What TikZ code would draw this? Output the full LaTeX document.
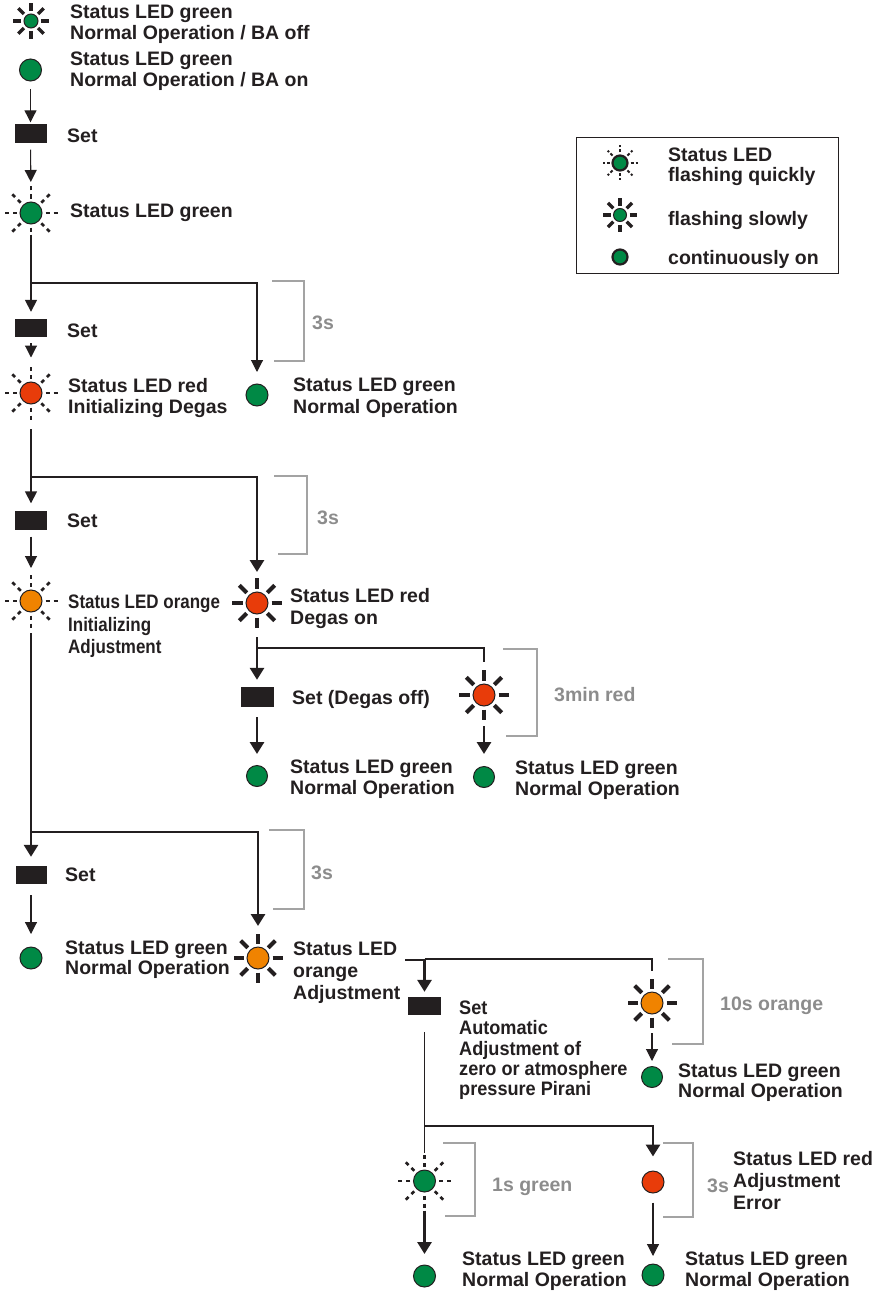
\documentclass[tikz,border=0pt]{standalone}
\usepackage{fontspec}
\setmainfont{Liberation Sans}
\newfontfamily\condfont{Liberation Sans}[FakeStretch=0.87]
\newfontfamily\semicondfont{Liberation Sans}[FakeStretch=0.93]
\usetikzlibrary{arrows.meta}
\definecolor{ink}{HTML}{231F20}
\definecolor{ledgreen}{RGB}{0,137,69}
\definecolor{ledred}{RGB}{232,60,10}
\definecolor{ledorange}{RGB}{240,131,0}
\definecolor{brk}{HTML}{A3A3A3}
\definecolor{brktext}{HTML}{8C8C8C}
\newcommand{\slowrays}[4]{\foreach \a in {0,45,...,315}{\draw[ink, line width=#4] (#1.center) ++(\a:#2) -- ++(\a:#3);}}
\newcommand{\quickrays}[5]{\foreach \a in {0,45,...,315}{\draw[ink, line width=#4, dash pattern=#5] (#1.center) ++(\a:#2) -- ++(\a:#3);}}
\tikzset{
  led/.style={circle, draw=ink, line width=1pt, inner sep=0pt, minimum size=#1},
  led/.default=22pt,
  setbox/.style={rectangle, fill=ink, inner sep=0pt, minimum width=32pt, minimum height=19pt},
  txt/.style={anchor=north west, inner sep=0pt, align=left, text=ink, font=\fontsize{19.5}{20.5}\selectfont\bfseries},
  gtxt/.style={anchor=base west, inner sep=0pt, text=brktext, font=\fontsize{19.5}{20.5}\selectfont\bfseries},
  bracket/.style={draw=brk, line width=1.1pt},
  thinarr/.style={draw=ink, line width=1.1pt, -{Triangle[width=12pt,length=12pt]}},
  medarr/.style={draw=ink, line width=1.6pt, -{Triangle[width=12pt,length=12pt]}},
  thickarr/.style={draw=ink, line width=2.9pt, -{Triangle[width=14pt,length=12pt]}},
  thinline/.style={draw=ink, line width=1.1pt},
  medline/.style={draw=ink, line width=1.8pt},
  thickline/.style={draw=ink, line width=2.9pt},
}
\begin{document}
\begin{tikzpicture}[x=1pt,y=-1pt]
\useasboundingbox (0,0) rectangle (890,1292);

% ---------- LEDs and Set boxes ----------
\node[led=14pt, fill=ledgreen] (l1) at (31,21) {};
\slowrays{l1}{10}{8}{3.5pt}
\node[led, fill=ledgreen] (l2) at (30.5,70) {};
\node[setbox] (s1) at (30.5,134) {};
\node[led, fill=ledgreen] (l3) at (31,213) {};
\quickrays{l3}{14.5}{12}{2.6pt}{on 4pt off 4pt}
\node[setbox, minimum height=18pt] (s2) at (31,328) {};
\node[led, fill=ledred] (l4) at (31,393) {};
\quickrays{l4}{14.5}{12}{2.6pt}{on 4pt off 4pt}
\node[led, fill=ledgreen] (g1) at (257,395) {};
\node[setbox] (s3) at (31,520) {};
\node[led, fill=ledorange] (l5) at (31,601) {};
\quickrays{l5}{14.5}{12}{2.6pt}{on 4pt off 4pt}
\node[led, fill=ledred] (r1) at (257,603) {};
\slowrays{r1}{14.5}{10.5}{4pt}
\node[setbox, minimum width=33pt, minimum height=20pt] (s4) at (257,697) {};
\node[led=21pt, fill=ledgreen] (g2) at (257,776) {};
\node[led, fill=ledred] (r2) at (484,695) {};
\slowrays{r2}{14.5}{10.5}{4pt}
\node[led=21pt, fill=ledgreen] (g3) at (484,777) {};
\node[setbox, minimum width=31pt, minimum height=18pt] (s5) at (31,875) {};
\node[led, fill=ledgreen] (g4) at (31,958) {};
\node[led, fill=ledorange] (o1) at (258,958) {};
\slowrays{o1}{14.5}{10}{4pt}
\node[setbox, minimum width=33pt, minimum height=18pt] (s6) at (424.5,1006) {};
\node[led, fill=ledorange] (o2) at (652,1003) {};
\slowrays{o2}{14.5}{10}{4pt}
\node[led=21pt, fill=ledgreen] (g5) at (652,1077) {};
\node[led=22pt, fill=ledgreen] (q1) at (424.5,1181) {};
\quickrays{q1}{14.5}{12}{2.6pt}{on 4pt off 4pt}
\node[led=22pt, fill=ledred] (e1) at (653,1182) {};
\node[led, fill=ledgreen] (g6) at (424.5,1276) {};
\node[led, fill=ledgreen] (g7) at (653,1275) {};

% ---------- junctions ----------
\coordinate (j1) at (31,283);
\coordinate (j2) at (31,477);
\coordinate (j3) at (31,832);
\coordinate (j4) at (257,648);
\coordinate (j5) at (405,960);
\coordinate (j6) at (424.5,959);
\coordinate (j7) at (424.5,1126);

% ---------- connectors ----------
\draw[thinarr, shorten <=7.5pt, shorten >=2pt] (l2) -- (s1);
\draw[thinarr, shorten <=6pt, shorten >=19.5pt] (s1) -- (l3);
\draw[medarr, shorten <=10pt, shorten >=7pt] (l3) -- (s2);
\draw[thinarr, shorten >=11.5pt] (j1) -| (g1);
\draw[thinarr, shorten <=6pt, shorten >=24pt] (s2) -- (l4);
\draw[thickline, shorten <=24.5pt] (l4) -- (j2);
\draw[medarr, shorten >=7pt] (j2) -- (s3);
\draw[thickarr, shorten >=19.5pt] (j2) -| (r1);
\draw[thinarr, shorten <=7pt, shorten >=21.5pt] (s3) -- (l5);
\draw[thickline, shorten <=20.5pt] (l5) -- (j3);
\draw[thickarr, shorten >=9pt] (j3) -- (s5);
\draw[thickarr, shorten >=20.5pt] (j3) -| (o1);
\draw[thickline, shorten <=22.5pt] (r1) -- (j4);
\draw[thickarr, shorten >=7pt] (j4) -- (s4);
\draw[thickline, shorten >=21.5pt] (j4) -| (r2);
\draw[thickarr, shorten <=10pt, shorten >=11pt] (s4) -- (g2);
\draw[thickarr, shorten <=19.5pt, shorten >=12pt] (r2) -- (g3);
\draw[thinarr, shorten <=11pt, shorten >=12.5pt] (s5) -- (g4);
\draw[thickarr, shorten >=5pt] (j5) -| (s6);
\draw[thinline, shorten >=20.5pt] (j6) -| (o2);
\draw[thinarr, shorten <=18.5pt, shorten >=5pt] (o2) -- (g5);
\draw[medline, shorten <=17pt, shorten >=17pt] (s6) -- (q1);
\draw[thickarr, shorten >=14pt] (j7) -| (e1);
\draw[thickarr, shorten <=18pt, shorten >=10.5pt] (q1) -- (g6);
\draw[thinarr, shorten <=9pt, shorten >=7.5pt] (e1) -- (g7);

% ---------- brackets ----------
\draw[bracket] (272,281) -- (304,281) -- (304,361) -- (274,361);
\draw[bracket] (274,476) -- (307,476) -- (307,554) -- (278,554);
\draw[bracket] (503,649) -- (537,649) -- (537,736) -- (506,736);
\draw[bracket] (269,830) -- (304,830) -- (304,909) -- (273,909);
\draw[bracket] (668,959) -- (703,959) -- (703,1044) -- (672,1044);
\draw[bracket] (443,1143) -- (475,1143) -- (475,1216) -- (445,1216);
\draw[bracket] (663,1143) -- (693,1143) -- (693,1217) -- (663,1217);

% ---------- texts ----------
\node[txt] (t1) at (70,4.8) {Status LED green\\Normal Operation / BA off};
\node[txt, font=\fontsize{19.5}{21}\selectfont\bfseries] (t2) at (70,51.8) {Status LED green\\Normal Operation / BA on};
\node[txt] (ts1) at (67,128.8) {Set};
\node[txt] (t3) at (70,203.8) {Status LED green};
\node[txt] (ts2) at (67,323.8) {Set};
\node[txt, font=\fontsize{19.5}{21.5}\selectfont\bfseries] (t4) at (68,377.8) {Status LED red\\Initializing Degas};
\node[txt, font=\fontsize{19.5}{21.5}\selectfont\bfseries] (t5) at (293,377.8) {Status LED green\\Normal Operation};
\node[txt] (ts3) at (67,513.8) {Set};
\node[txt, font=\fontsize{19.5}{22.5}\selectfont\bfseries\condfont] (t6) at (68,594.8) {Status LED orange\\Initializing\\Adjustment};
\node[txt, font=\fontsize{19.5}{22.5}\selectfont\bfseries] (t7) at (290,587.8) {Status LED red\\Degas on};
\node[txt] (t8) at (292,689.8) {Set (Degas off)};
\node[txt, font=\fontsize{19.5}{21}\selectfont\bfseries] (t9) at (290,759.8) {Status LED green\\Normal Operation};
\node[txt, font=\fontsize{19.5}{21.5}\selectfont\bfseries] (t10) at (515,760.3) {Status LED green\\Normal Operation};
\node[txt] (ts4) at (65,867.8) {Set};
\node[txt, font=\fontsize{19.5}{20}\selectfont\bfseries] (t11) at (65,940.8) {Status LED green\\Normal Operation};
\node[txt, font=\fontsize{19.5}{22}\selectfont\bfseries] (t12) at (293,941.8) {Status LED\\orange\\Adjustment};
\node[txt, font=\fontsize{19.5}{20.3}\selectfont\bfseries\semicondfont] (t13) at (459,1000.8) {Set\\Automatic\\Adjustment of\\zero or atmosphere\\pressure Pirani};
\node[txt, font=\fontsize{19.5}{19.5}\selectfont\bfseries] (t14) at (678,1063.8) {Status LED green\\Normal Operation};
\node[txt, font=\fontsize{19.5}{22}\selectfont\bfseries] (t15) at (733,1150.8) {Status LED red\\Adjustment\\Error};
\node[txt] (t16) at (462,1251.8) {Status LED green\\Normal Operation};
\node[txt] (t17) at (685,1251.8) {Status LED green\\Normal Operation};

\node[gtxt] (d1) at (312,329) {3s};
\node[gtxt] (d2) at (317,524) {3s};
\node[gtxt] (d3) at (554,701) {3min red};
\node[gtxt] (d4) at (311,879) {3s};
\node[gtxt] (d5) at (720,1010) {10s orange};
\node[gtxt] (d6) at (492,1191) {1s green};
\node[gtxt] (d7) at (707,1192) {3s};

% ---------- legend ----------
\node[draw=ink, line width=1pt, minimum width=262pt, minimum height=135pt, inner sep=0pt] (legend) at (707,205.5) {};
\node[led=15pt, fill=ledgreen, line width=2.2pt] (lq) at (620,163) {};
\quickrays{lq}{10.5}{7}{2pt}{on 3pt off 2pt}
\node[led=13pt, fill=ledgreen] (ls) at (620,215) {};
\slowrays{ls}{9.5}{7.5}{3.5pt}
\node[led=15pt, fill=ledgreen, line width=2.2pt] (lc) at (620,257) {};
\node[txt, font=\fontsize{19.5}{20}\selectfont\bfseries] (lt1) at (668,147.8) {Status LED\\flashing quickly};
\node[txt] (lt2) at (668,210.8) {flashing slowly};
\node[txt] (lt3) at (668,249.8) {continuously on};
\end{tikzpicture}
\end{document}
